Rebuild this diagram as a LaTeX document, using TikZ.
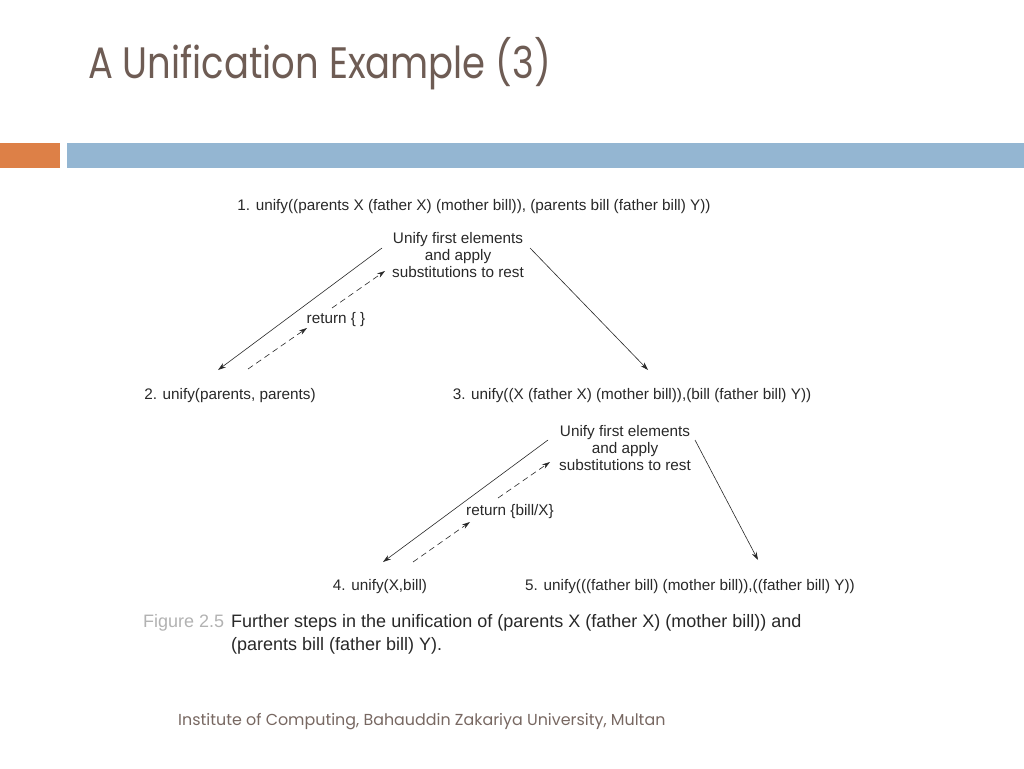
\documentclass[tikz,border=0pt]{standalone}
\usepackage{fontspec}
\setmainfont{Liberation Sans}
\newfontfamily\slidefont{Poppins}
\usetikzlibrary{positioning,arrows.meta}

\definecolor{titlegray}{RGB}{110,92,84}
\definecolor{footgray}{RGB}{120,104,98}
\definecolor{barorange}{RGB}{221,128,71}
\definecolor{barblue}{RGB}{148,182,210}
\definecolor{ink}{RGB}{40,40,40}

\begin{document}
\begin{tikzpicture}[x=1pt, y=-1pt, >={Stealth[length=8pt,width=5pt]},
  expr/.style={inner sep=0pt, text=ink, font=\fontsize{15.3}{17}\selectfont},
  note/.style={expr, align=center, font=\fontsize{15.3}{17}\selectfont},
  legend/.style={anchor=base west, inner sep=0pt, font=\fontsize{18}{20}\selectfont},
  call/.style={->, draw=ink, line width=0.6pt},
  back/.style={->, draw=ink, line width=0.6pt, dash pattern=on 6pt off 4pt}]
\useasboundingbox (0,0) rectangle (1024,768);

% titre et bandeau
\node[anchor=base west, inner sep=0pt, text=titlegray,
  font=\slidefont\fontsize{44}{46}\selectfont] (title) at (88,78) {\scalebox{0.84}[1]{A Unification Example (3)}};
\fill[barorange] (0,143) rectangle (60,168);
\fill[barblue] (67,143) rectangle (1024,168);

% premier niveau
\node[expr] (goal1) at (474,207) {1. unify((parents X (father X) (mother bill)), (parents bill (father bill) Y))};
\node[note] (rule1) at (458,255) {Unify first elements\\and apply\\substitutions to rest};
\node[expr] (goal2) at (230,396) {2. unify(parents, parents)};
\node[expr] (goal3) at (632,396) {3. unify((X (father X) (mother bill)),(bill (father bill) Y))};
\node[expr] (ret1) at (336,320) {return \{ \}};

\coordinate (c1a) at (382,248);  \coordinate (c1b) at (218,370);
\coordinate (c1c) at (530,248);  \coordinate (c1d) at (648,370);
\coordinate (r1a) at (248,369);  \coordinate (r1b) at (307,328);
\coordinate (r1c) at (332,308);  \coordinate (r1d) at (385,271);
\draw[call] (c1a) -- (c1b);
\draw[call] (c1c) -- (c1d);
\draw[back] (r1a) -- (r1b);
\draw[back] (r1c) -- (r1d);

% second niveau
\node[note] (rule2) at (625,448) {Unify first elements\\and apply\\substitutions to rest};
\node[expr] (goal4) at (380,587) {4. unify(X,bill)};
\node[expr] (goal5) at (690,587) {5. unify(((father bill) (mother bill)),((father bill) Y))};
\node[expr] (ret2) at (510,512) {return \{bill/X\}};

\coordinate (c2a) at (548,440);  \coordinate (c2b) at (383,562);
\coordinate (c2c) at (695,440);  \coordinate (c2d) at (758,560);
\coordinate (r2a) at (413,562);  \coordinate (r2b) at (470,522);
\coordinate (r2c) at (498,498);  \coordinate (r2d) at (550,462);
\draw[call] (c2a) -- (c2b);
\draw[call] (c2c) -- (c2d);
\draw[back] (r2a) -- (r2b);
\draw[back] (r2c) -- (r2d);

% légende
\node[legend, text=black!30] (fig) at (143,627) {Figure 2.5};
\node[legend, text=ink] (caption1) at (231,627) {Further steps in the unification of (parents X (father X) (mother bill)) and};
\node[legend, text=ink] (caption2) at (231,650) {(parents bill (father bill) Y).};

% pied de page
\node[anchor=base west, inner sep=0pt, text=footgray,
  font=\slidefont\fontsize{15.9}{17}\selectfont] (foot) at (178,725) {Institute of Computing, Bahauddin Zakariya University, Multan};
\end{tikzpicture}
\end{document}
